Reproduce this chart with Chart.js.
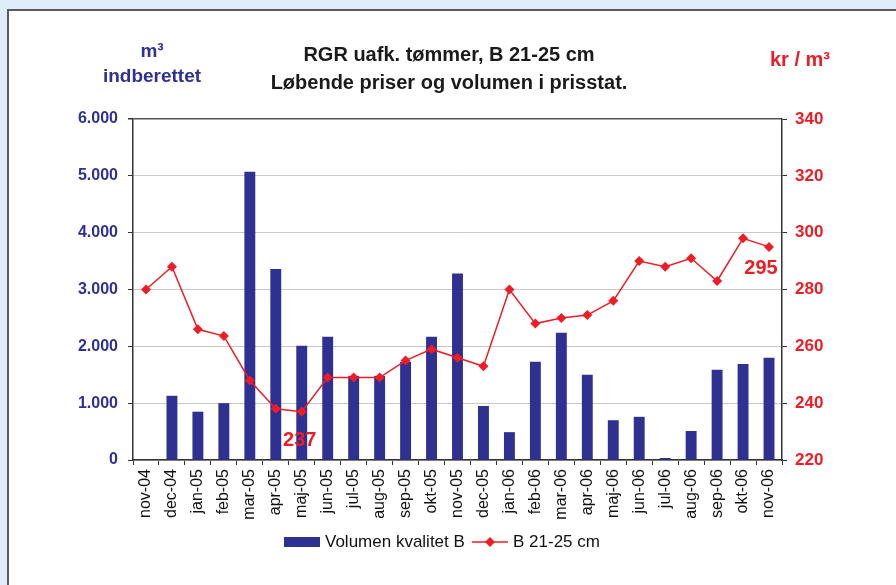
<!DOCTYPE html>
<html>
<head>
<meta charset="utf-8">
<script src="https://cdn.jsdelivr.net/npm/chart.js@4/dist/chart.umd.min.js"></script>
<style>
  html, body { margin: 0; padding: 0; }
  body { width: 896px; height: 585px; background: #deedf9; position: relative; overflow: hidden; }
  #panel { position: absolute; left: 7px; top: 9px; width: 900px; height: 600px; background: #fff; border: 2px solid #5a5a5a; }
  #chart { position: absolute; left: 0; top: 0; }
</style>
</head>
<body>
<div id="panel"></div>
<canvas id="chart" width="896" height="585"></canvas>
<script>
// Måneder
const maaneder = ['nov-04', 'dec-04', 'jan-05', 'feb-05', 'mar-05', 'apr-05', 'maj-05', 'jun-05', 'jul-05',
    'aug-05', 'sep-05', 'okt-05', 'nov-05', 'dec-05', 'jan-06', 'feb-06', 'mar-06', 'apr-06', 'maj-06',
    'jun-06', 'jul-06', 'aug-06', 'sep-06', 'okt-06', 'nov-06'];

// Volumen kvalitet B (m³ indberettet)
const volumen = [0, 1130, 850, 1000, 5070, 3360, 2010, 2170, 1480, 1480, 1730, 2170, 3280, 950, 490,
    1730, 2240, 1500, 700, 760, 35, 510, 1590, 1690, 1800];

// Pris B 21-25 cm (kr / m³)
const pris = [280, 288, 266, 263.6, 248, 238, 237, 249, 249, 249, 255, 259, 256, 253, 280, 268, 270,
    271, 276, 290, 288, 291, 283, 298, 295];

// Akser
const venstreTicks = [0, 1000, 2000, 3000, 4000, 5000, 6000];
const hoejreTicks = [220, 240, 260, 280, 300, 320, 340];

// Markerede værdier (indeks i pris)
const markeringer = [6, 24];

const BLAA = '#2e3192';
const ROED = '#ee1c25';
const FONT = '"Liberation Sans", Arial, sans-serif';

function tusind(v) {
    return v.toLocaleString('da-DK');
}

// Titler, aksetitler, markeringer og forklaring
const tegnTekst = {
    id: 'tegnTekst',
    afterDatasetsDraw(chart) {
        const ctx = chart.ctx;
        ctx.save();
        ctx.textAlign = 'center';
        ctx.textBaseline = 'middle';

        ctx.fillStyle = '#1a1a1a';
        ctx.font = 'bold 20px ' + FONT;
        ctx.fillText('RGR uafk. tømmer, B 21-25 cm', 449, 55);
        ctx.fillText('Løbende priser og volumen i prisstat.', 449, 83);

        ctx.fillStyle = BLAA;
        ctx.font = 'bold 19px ' + FONT;
        ctx.fillText('m³', 152, 52);
        ctx.fillText('indberettet', 152, 77);

        ctx.fillStyle = ROED;
        ctx.font = 'bold 20px ' + FONT;
        ctx.fillText('kr / m³', 800, 60);

        // Markerede priser
        const x = chart.scales.x;
        const y2 = chart.scales.y2;
        ctx.font = 'bold 20px ' + FONT;
        markeringer.forEach(i => {
            const px = x.getPixelForValue(i);
            const py = y2.getPixelForValue(pris[i]);
            if (i === 6) {
                ctx.fillText(String(pris[i]), px - 2, py + 29);
            } else {
                ctx.fillText(String(pris[i]), px - 8, py + 22);
            }
        });

        // Forklaring
        ctx.fillStyle = BLAA;
        ctx.fillRect(284, 537, 36, 10);
        ctx.fillStyle = '#111';
        ctx.font = '17px ' + FONT;
        ctx.textAlign = 'left';
        ctx.fillText('Volumen kvalitet B', 325, 542);
        ctx.strokeStyle = ROED;
        ctx.lineWidth = 1.5;
        ctx.beginPath();
        ctx.moveTo(472, 542);
        ctx.lineTo(508, 542);
        ctx.stroke();
        ctx.fillStyle = ROED;
        ctx.beginPath();
        ctx.moveTo(490, 537);
        ctx.lineTo(495, 542);
        ctx.lineTo(490, 547);
        ctx.lineTo(485, 542);
        ctx.closePath();
        ctx.fill();
        ctx.fillStyle = '#111';
        ctx.fillText('B 21-25 cm', 513, 542);
        ctx.restore();
    }
};

const ctx = document.getElementById('chart').getContext('2d');
const chart = new Chart(ctx, {
    data: {
        labels: maaneder,
        datasets: [
            {
                type: 'line',
                label: 'B 21-25 cm',
                data: pris,
                yAxisID: 'y2',
                borderColor: ROED,
                backgroundColor: ROED,
                borderWidth: 1.5,
                pointStyle: 'rectRot',
                pointRadius: 5,
                pointBorderWidth: 0,
                tension: 0,
                order: 0
            },
            {
                type: 'bar',
                label: 'Volumen kvalitet B',
                data: volumen,
                yAxisID: 'y',
                backgroundColor: BLAA,
                barPercentage: 0.42,
                categoryPercentage: 1,
                order: 1
            }
        ]
    },
    options: {
        responsive: false,
        animation: false,
        layout: { padding: { top: 119, left: 0, right: 0, bottom: 0 } },
        plugins: {
            legend: { display: false },
            title: { display: false },
            tooltip: { enabled: false }
        },
        scales: {
            x: {
                offset: true,
                afterFit: s => { s.height = 125; },
                grid: { offset: true, drawOnChartArea: false, tickLength: 5, tickColor: '#333' },
                border: { color: '#333', width: 1.5 },
                ticks: {
                    color: '#111',
                    font: { family: FONT, size: 16 },
                    minRotation: 90,
                    maxRotation: 90,
                    padding: 4,
                    autoSkip: false
                }
            },
            y: {
                position: 'left',
                min: 0,
                max: 6000,
                afterFit: s => { s.width = 133; },
                afterBuildTicks: s => { s.ticks = venstreTicks.map(v => ({ value: v })); },
                grid: {
                    color: c => (c.tick && c.tick.value === 6000) ? '#555' : '#c8c8c8',
                    lineWidth: c => (c.tick && c.tick.value === 6000) ? 1.5 : 1,
                    tickLength: 5,
                    tickColor: '#333'
                },
                border: { color: '#333', width: 1.5 },
                ticks: {
                    color: BLAA,
                    font: { family: FONT, size: 16, weight: 'bold' },
                    padding: 10,
                    callback: v => tusind(v)
                }
            },
            y2: {
                position: 'right',
                min: 220,
                max: 340,
                afterFit: s => { s.width = 114; },
                afterBuildTicks: s => { s.ticks = hoejreTicks.map(v => ({ value: v })); },
                grid: { drawOnChartArea: false, tickLength: 5, tickColor: '#333' },
                border: { color: '#333', width: 1.5 },
                ticks: {
                    color: ROED,
                    font: { family: FONT, size: 17, weight: 'bold' },
                    padding: 8
                }
            }
        }
    },
    plugins: [tegnTekst]
});
</script>
</body>
</html>
